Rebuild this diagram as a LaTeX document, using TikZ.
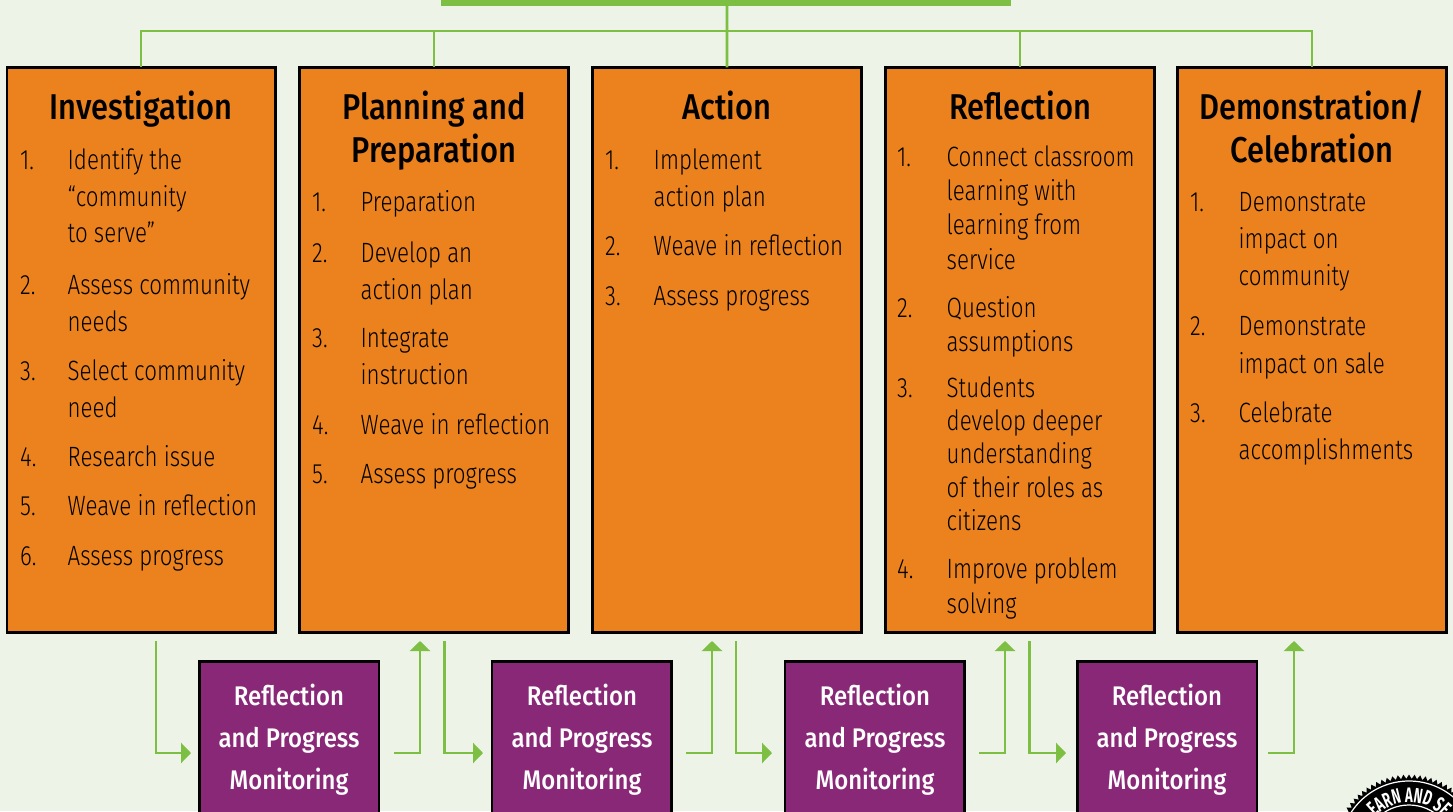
\documentclass[tikz,border=0pt]{standalone}
\usepackage{fontspec}
\setmainfont{Fira Sans}
\newfontfamily\lightf{Fira Sans}[UprightFont=* Light,FakeStretch=0.80]
\newfontfamily\medf{Fira Sans}[UprightFont=* Medium,FakeStretch=0.86]
\newfontfamily\monf{Fira Sans}[UprightFont=* Medium,FakeStretch=0.89]
\newfontfamily\sealf{Fira Sans}[UprightFont=* Bold,FakeStretch=0.62]
\usetikzlibrary{arrows.meta,decorations.text,shapes.geometric}
\definecolor{bgc}{HTML}{EDF3E6}
\definecolor{orangec}{HTML}{EB821E}
\definecolor{purplec}{HTML}{8A2878}
\definecolor{greenc}{HTML}{7DBF42}
\tikzset{
 x=1bp,y=-1bp,
 stagebox/.style={draw=black,line width=2.6bp,fill=orangec,minimum width=268.5bp,minimum height=565.4bp,anchor=north west,inner sep=0pt,outer sep=0pt},
 monbox/.style={draw=black,line width=2.6bp,fill=purplec,minimum width=179.5bp,minimum height=200bp,anchor=north west,inner sep=0pt,outer sep=0pt},
 treeline/.style={draw=greenc,line width=2.6bp},
 flow/.style={draw=greenc,line width=2.4bp,-{Triangle[length=10bp,width=20bp]}},
 headtext/.style={inner sep=0pt,align=center,anchor=north,font=\medf\fontsize{36}{43}\selectfont},
 itemtext/.style={inner sep=0pt,align=left,anchor=north west,font=\lightf\fontsize{28}{#1}\selectfont},
 montext/.style={inner sep=0pt,align=center,anchor=north,text=white,font=\monf\fontsize{27}{42.5}\selectfont},
}
\newcommand{\listitem}[7]{%
 \node[itemtext=#5] (#1n) at (#2,#4-25) {\rule{0pt}{24bp}#6};
 \node[itemtext=#5] (#1t) at (#3-0.5,#4-25) {\rule{0pt}{24bp}#7};
}
\newcommand{\headline}[4]{\node[headtext] (#1) at (#2,#3-29) {\rule{0pt}{29bp}#4};}
\newcommand{\monitor}[3]{%
 \node[monbox] (#1) at (#2,661.3) {};
 \node[montext] (#1t) at (#3,706-24) {\rule{0pt}{23bp}Reflection\\and Progress\\Monitoring};
}
\begin{document}
\begin{tikzpicture}
\path[use as bounding box,fill=bgc] (0,0) rectangle (1453,811);
% seal
\begin{scope}[shift={(1409,850)},x=1bp,y=1bp]
 \node[star,star points=84,star point ratio=1.06,fill=black,inner sep=0pt,minimum size=151bp] (seal) at (0,0) {};
 \draw[white,line width=1.2bp] (0,0) circle (69);
 \draw[white,line width=1.2bp] (0,0) circle (45);
 \path[postaction={decorate,decoration={text along path,text align=center,text color=white,text={|\sealf\fontsize{21}{21}\selectfont|EARN AND SE}}}] (180:47.5) arc (180:0:47.5);
\end{scope}
% top bar and tree
\fill[greenc] (441,0) rectangle (1011,6.5);
\node[stagebox] (s1) at (6.8,67.3) {};
\node[stagebox] (s2) at (299.75,67.3) {};
\node[stagebox] (s3) at (592.75,67.3) {};
\node[stagebox] (s4) at (885.75,67.3) {};
\node[stagebox] (s5) at (1177.75,67.3) {};
\coordinate (rail) at (727,31);
\coordinate (topanchor) at (727,3);
\draw[treeline] (topanchor) -- (s3.north);
\draw[treeline] (s1.north) |- (rail) -| (s5.north);
\draw[treeline] (rail -| s2.north) -- (s2.north);
\draw[treeline] (rail -| s4.north) -- (s4.north);
% headings
\headline{h1}{141}{119}{Investigation}
\node[headtext] (h2) at (434,119-29) {\rule{0pt}{29bp}Planning and\\Preparation};
\headline{h3}{727}{119}{Action}
\headline{h4}{1020}{119}{Reflection}
\node[headtext] (h5) at (1312,119-29) {\rule{0pt}{29bp}Demonstration/\\Celebration};
% column 1
\listitem{a1}{20}{68}{170}{37}{1.}{Identify the\\“community\\to serve”}
\listitem{a2}{20}{68}{295}{37}{2.}{Assess community\\needs}
\listitem{a3}{20}{68}{381}{37}{3.}{Select community\\need}
\listitem{a4}{20}{68}{467}{37}{4.}{Research issue}
\listitem{a5}{20}{68}{516}{37}{5.}{Weave in reflection}
\listitem{a6}{20}{68}{566}{37}{6.}{Assess progress}
% column 2
\listitem{b1}{312}{361}{212}{37}{1.}{Preparation}
\listitem{b2}{312}{361}{263}{37}{2.}{Develop an\\action plan}
\listitem{b3}{312}{361}{348}{37}{3.}{Integrate\\instruction}
\listitem{b4}{312}{361}{435}{37}{4.}{Weave in reflection}
\listitem{b5}{312}{361}{484}{37}{5.}{Assess progress}
% column 3
\listitem{c1}{605}{654}{170}{37.5}{1.}{Implement\\action plan}
\listitem{c2}{605}{654}{256}{37}{2.}{Weave in reflection}
\listitem{c3}{605}{654}{306}{37}{3.}{Assess progress}
% column 4
\listitem{d1}{897}{947}{167}{34.5}{1.}{Connect classroom\\learning with\\learning from\\service}
\listitem{d2}{897}{947}{318}{34}{2.}{Question\\assumptions}
\listitem{d3}{897}{947}{398}{33.5}{3.}{Students\\develop deeper\\understanding\\of their roles as\\citizens}
\listitem{d4}{897}{947}{579}{35}{4.}{Improve problem\\solving}
% column 5
\listitem{e1}{1190}{1239}{212}{37.5}{1.}{Demonstrate\\impact on\\community}
\listitem{e2}{1190}{1239}{336}{38}{2.}{Demonstrate\\impact on sale}
\listitem{e3}{1190}{1239}{423}{37}{3.}{Celebrate\\accomplishments}
% monitoring boxes
\monitor{m1}{199.3}{289}
\monitor{m2}{492}{582}
\monitor{m3}{784.8}{875}
\monitor{m4}{1077.5}{1167}
% flow connectors
\coordinate (o1) at (156,641); \coordinate (i1) at (191,753);
\coordinate (o2) at (444.5,641); \coordinate (i2) at (483,753);
\coordinate (o3) at (736,641); \coordinate (i3) at (772,753);
\coordinate (o4) at (1029.5,641); \coordinate (i4) at (1066,753);
\coordinate (r1) at (394,753); \coordinate (u1) at (420,641);
\coordinate (r2) at (686,753); \coordinate (u2) at (712,641);
\coordinate (r3) at (979,753); \coordinate (u3) at (1005,641);
\coordinate (r4) at (1268,753); \coordinate (u4) at (1294,641);
\foreach \k in {1,2,3,4}{
 \draw[flow] (o\k) |- (i\k);
 \draw[flow] (r\k) -| (u\k);
}
\end{tikzpicture}
\end{document}
